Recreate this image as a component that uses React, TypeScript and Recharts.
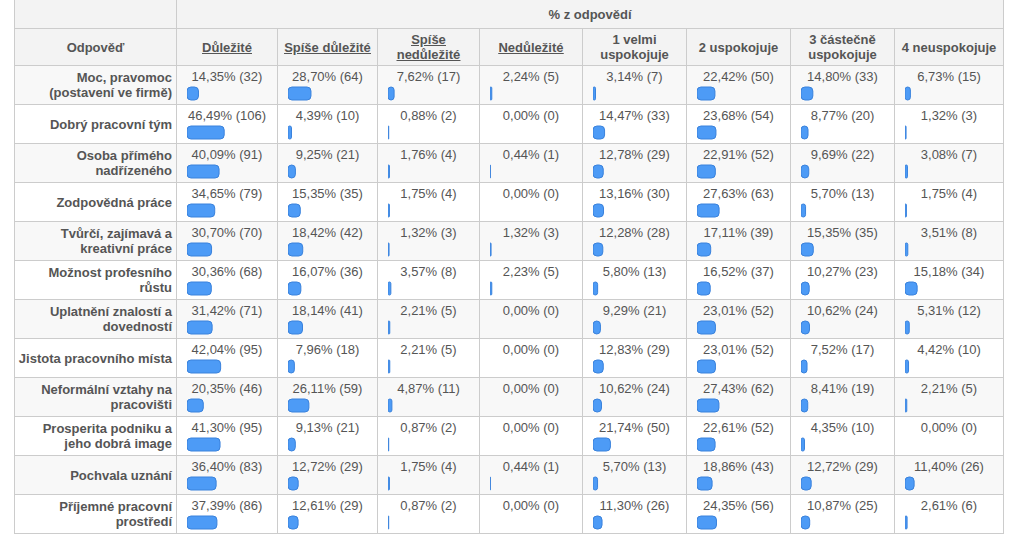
import React from 'react';
import { BarChart, Bar, XAxis, YAxis } from 'recharts';

const ROW_LABELS = [
  ['Moc, pravomoc', '(postavení ve firmě)'],
  ['Dobrý pracovní tým'],
  ['Osoba přímého', 'nadřízeného'],
  ['Zodpovědná práce'],
  ['Tvůrčí, zajímavá a', 'kreativní práce'],
  ['Možnost profesního', 'růstu'],
  ['Uplatnění znalostí a', 'dovedností'],
  ['Jistota pracovního místa'],
  ['Neformální vztahy na', 'pracovišti'],
  ['Prosperita podniku a', 'jeho dobrá image'],
  ['Pochvala uznání'],
  ['Příjemné pracovní', 'prostředí'],
];

const COLUMN_HEADERS = [
  ['Důležité'],
  ['Spíše důležité'],
  ['Spíše', 'nedůležité'],
  ['Nedůležité'],
  ['1 velmi', 'uspokojuje'],
  ['2 uspokojuje'],
  ['3 částečně', 'uspokojuje'],
  ['4 neuspokojuje'],
];
// first four headers are links (underlined)
const LINKED = [true, true, true, true, false, false, false, false];

// percentages per column
const dulezite = [14.35, 46.49, 40.09, 34.65, 30.7, 30.36, 31.42, 42.04, 20.35, 41.3, 36.4, 37.39];
const spiseDulezite = [28.7, 4.39, 9.25, 15.35, 18.42, 16.07, 18.14, 7.96, 26.11, 9.13, 12.72, 12.61];
const spiseNedulezite = [7.62, 0.88, 1.76, 1.75, 1.32, 3.57, 2.21, 2.21, 4.87, 0.87, 1.75, 0.87];
const nedulezite = [2.24, 0, 0.44, 0, 1.32, 2.23, 0, 0, 0, 0, 0.44, 0];
const velmiUspokojuje = [3.14, 14.47, 12.78, 13.16, 12.28, 5.8, 9.29, 12.83, 10.62, 21.74, 5.7, 11.3];
const uspokojuje = [22.42, 23.68, 22.91, 27.63, 17.11, 16.52, 23.01, 23.01, 27.43, 22.61, 18.86, 24.35];
const castecne = [14.8, 8.77, 9.69, 5.7, 15.35, 10.27, 10.62, 7.52, 8.41, 4.35, 12.72, 10.87];
const neuspokojuje = [6.73, 1.32, 3.08, 1.75, 3.51, 15.18, 5.31, 4.42, 2.21, 0, 11.4, 2.61];

// response counts per column
const duleziteN = [32, 106, 91, 79, 70, 68, 71, 95, 46, 95, 83, 86];
const spiseDuleziteN = [64, 10, 21, 35, 42, 36, 41, 18, 59, 21, 29, 29];
const spiseNeduleziteN = [17, 2, 4, 4, 3, 8, 5, 5, 11, 2, 4, 2];
const neduleziteN = [5, 0, 1, 0, 3, 5, 0, 0, 0, 0, 1, 0];
const velmiUspokojujeN = [7, 33, 29, 30, 28, 13, 21, 29, 24, 50, 13, 26];
const uspokojujeN = [50, 54, 52, 63, 39, 37, 52, 52, 62, 52, 43, 56];
const castecneN = [33, 20, 22, 13, 35, 23, 24, 17, 19, 10, 29, 25];
const neuspokojujeN = [15, 3, 7, 4, 8, 34, 12, 10, 5, 0, 26, 6];

const PCT = [dulezite, spiseDulezite, spiseNedulezite, nedulezite, velmiUspokojuje, uspokojuje, castecne, neuspokojuje];
const COUNTS = [duleziteN, spiseDuleziteN, spiseNeduleziteN, neduleziteN, velmiUspokojujeN, uspokojujeN, castecneN, neuspokojujeN];

const COL_WIDTHS = [162, 101, 100, 102, 103, 104, 104, 104, 109];
const BORDER = '1px solid #cccccc';
const TEXT = '#555555';

const fmt = (v: number) => v.toFixed(2).replace('.', ',');

const MiniBar = ({ value }: { value: number }) => (
  <BarChart
    width={80}
    height={15}
    layout="vertical"
    data={[{ name: 'v', value }]}
    margin={{ top: 0, right: 0, bottom: 0, left: 0 }}
  >
    <XAxis type="number" domain={[0, 100]} hide />
    <YAxis type="category" dataKey="name" hide />
    <Bar
      dataKey="value"
      barSize={13}
      radius={4}
      fill="#4d9bf6"
      stroke="#3a82dc"
      strokeWidth={1}
      isAnimationActive={false}
    />
  </BarChart>
);

const App: React.FC = () => {
  const cell = (bg: string): React.CSSProperties => ({
    borderRight: BORDER,
    borderBottom: BORDER,
    background: bg,
    boxSizing: 'border-box',
    position: 'relative',
  });

  return (
    <div
      style={{
        position: 'absolute',
        left: 0,
        top: 0,
        width: 1025,
        height: 542,
        background: '#ffffff',
        fontFamily: '"Liberation Sans", Arial, sans-serif',
        fontSize: 13,
        color: TEXT,
      }}
    >
      <div
        style={{
          position: 'absolute',
          left: 14,
          top: 0,
          display: 'grid',
          gridTemplateColumns: COL_WIDTHS.map((w) => w + 'px').join(' '),
          gridTemplateRows: '29px 37px repeat(12, 39px)',
          borderLeft: BORDER,
        }}
      >
        {/* header row 1 */}
        <div style={cell('#f3f3f3')} />
        <div
          style={{
            ...cell('#f3f3f3'),
            gridColumn: '2 / span 8',
            display: 'flex',
            alignItems: 'center',
            justifyContent: 'center',
            fontWeight: 'bold',
          }}
        >
          % z odpovědí
        </div>

        {/* header row 2 */}
        <div
          style={{
            ...cell('#f3f3f3'),
            display: 'flex',
            alignItems: 'center',
            justifyContent: 'center',
            fontWeight: 'bold',
          }}
        >
          Odpověď
        </div>
        {COLUMN_HEADERS.map((lines, i) => (
          <div
            key={'h' + i}
            style={{
              ...cell('#f3f3f3'),
              display: 'flex',
              flexDirection: 'column',
              alignItems: 'center',
              justifyContent: 'center',
              fontWeight: 'bold',
              lineHeight: '15px',
              textDecoration: LINKED[i] ? 'underline' : 'none',
            }}
          >
            {lines.map((l) => (
              <span key={l} style={{ textDecoration: LINKED[i] ? 'underline' : 'none' }}>{l}</span>
            ))}
          </div>
        ))}

        {/* data rows */}
        {ROW_LABELS.map((label, r) => {
          const bg = r % 2 === 0 ? '#f8f8f8' : '#ffffff';
          return (
            <React.Fragment key={'r' + r}>
              <div
                style={{
                  ...cell(bg),
                  display: 'flex',
                  flexDirection: 'column',
                  alignItems: 'flex-end',
                  justifyContent: 'center',
                  paddingRight: 4,
                  fontWeight: 'bold',
                  lineHeight: '15px',
                }}
              >
                {label.map((l) => (
                  <span key={l}>{l}</span>
                ))}
              </div>
              {PCT.map((col, c) => (
                <div key={'c' + c} style={cell(bg)}>
                  <div style={{ textAlign: 'center', paddingTop: 3, lineHeight: '15px' }}>
                    {fmt(col[r])}% ({COUNTS[c][r]})
                  </div>
                  <div style={{ position: 'absolute', left: 10, top: 20 }}>
                    <MiniBar value={col[r]} />
                  </div>
                </div>
              ))}
            </React.Fragment>
          );
        })}
      </div>
    </div>
  );
};

export default App;
